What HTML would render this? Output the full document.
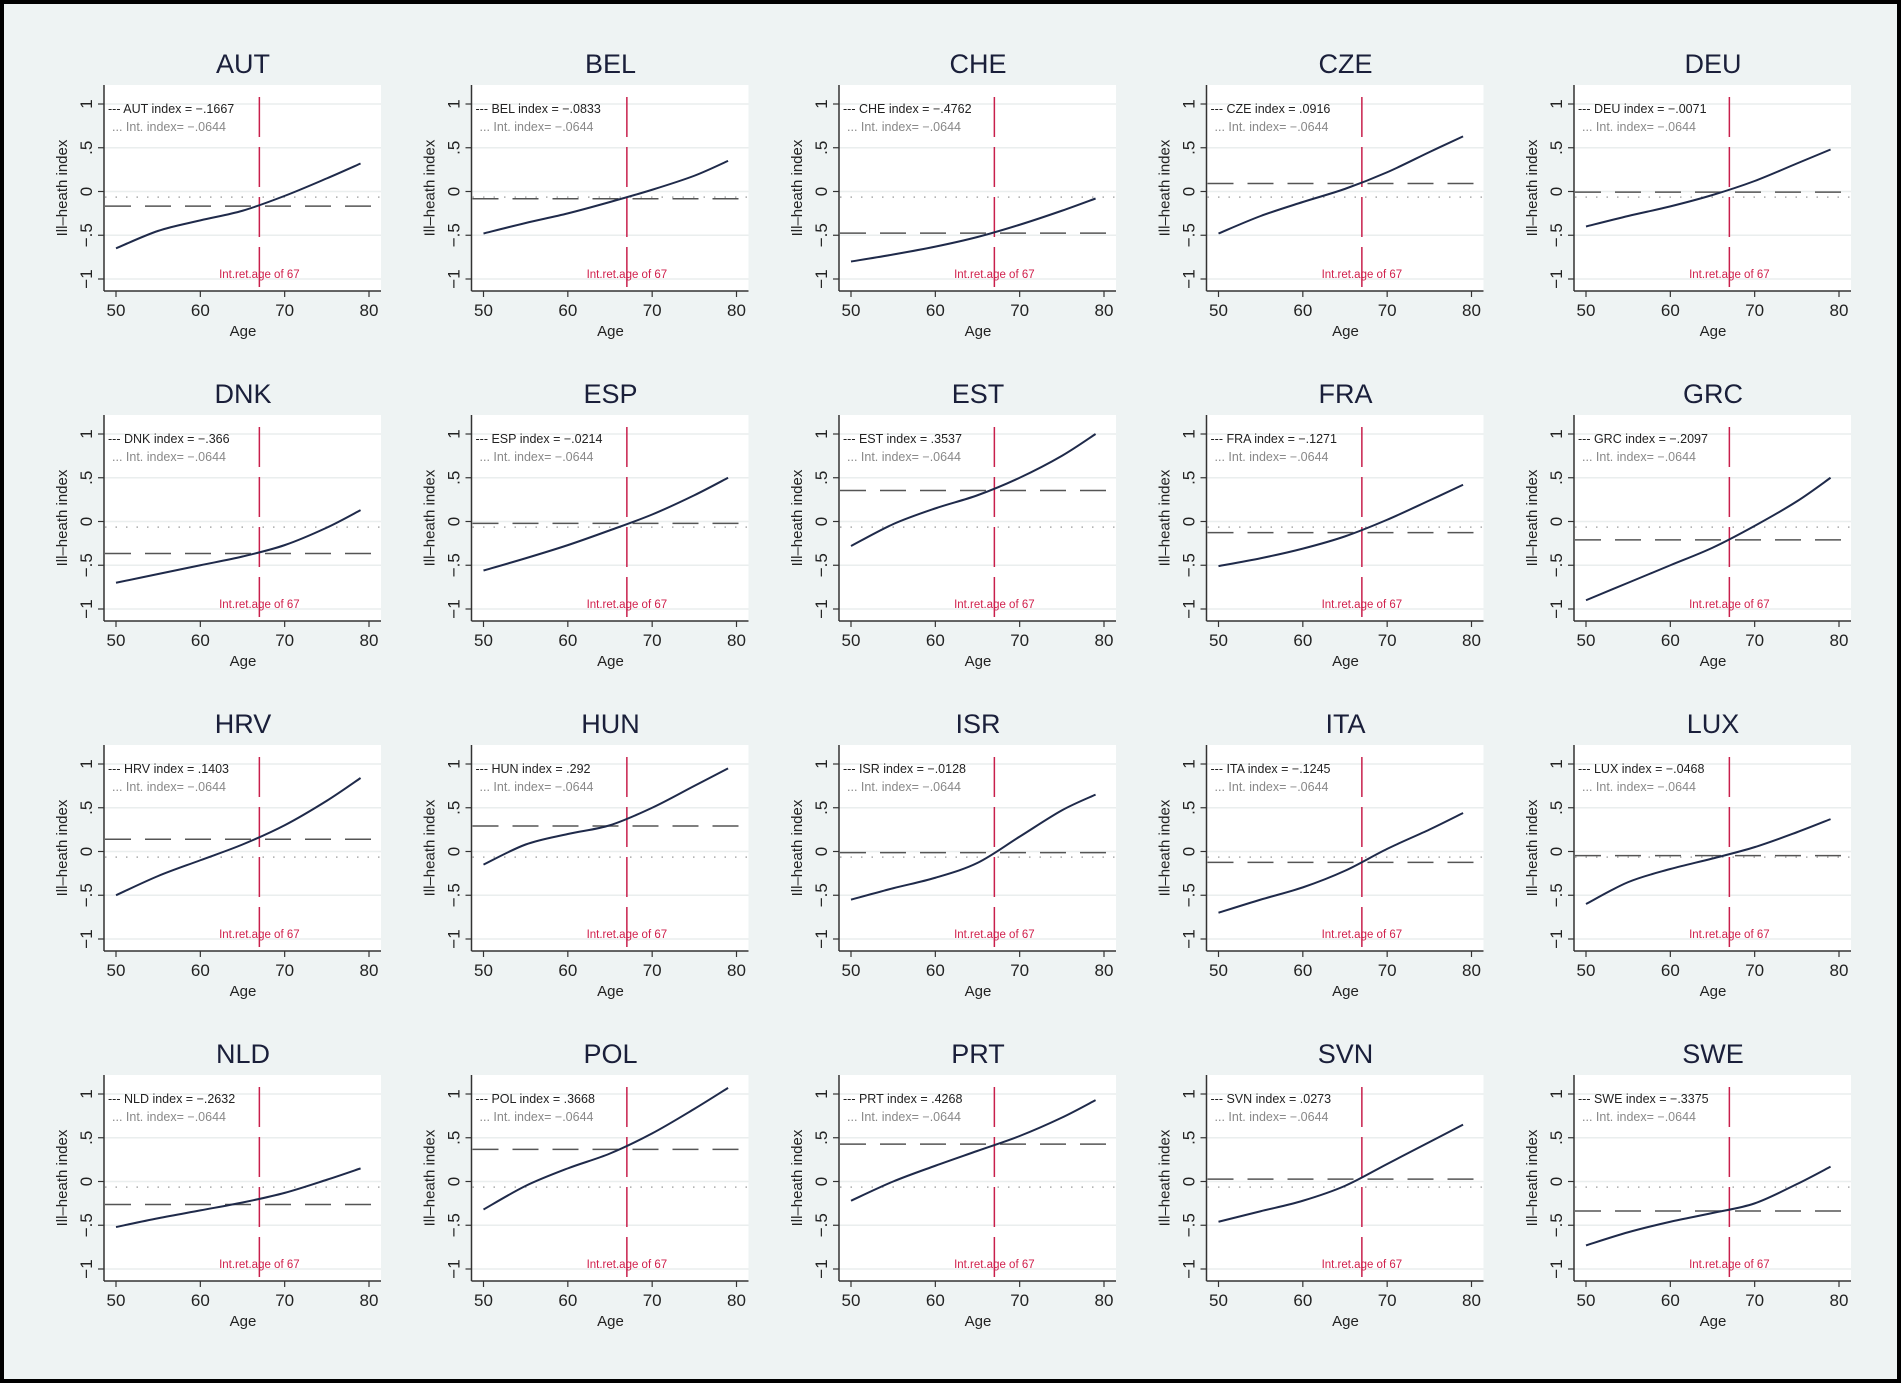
<!DOCTYPE html>
<html><head><meta charset="utf-8">
<style>
html,body{margin:0;padding:0;background:#fff;}
svg{display:block;font-family:"Liberation Sans",Arial,sans-serif;}
</style></head>
<body>
<svg id="fig" width="1902" height="1385" viewBox="0 0 1902 1385" xmlns="http://www.w3.org/2000/svg">
<rect x="2" y="2" width="1897" height="1379" fill="#eef3f3" stroke="#000" stroke-width="4"/>
<g id="panels"></g>
</svg>
<script>
const countries = ["AUT","BEL","CHE","CZE","DEU","DNK","ESP","EST","FRA","GRC","HRV","HUN","ISR","ITA","LUX","NLD","POL","PRT","SVN","SWE"];
const indexValues = [-0.1667,-0.0833,-0.4762,0.0916,-0.0071,-0.366,-0.0214,0.3537,-0.1271,-0.2097,0.1403,0.292,-0.0128,-0.1245,-0.0468,-0.2632,0.3668,0.4268,0.0273,-0.3375];
const indexLabels = ["-.1667","-.0833","-.4762",".0916","-.0071","-.366","-.0214",".3537","-.1271","-.2097",".1403",".292","-.0128","-.1245","-.0468","-.2632",".3668",".4268",".0273","-.3375"];
const intIndex = -0.0644;
const retAge = 67;
const ages = [50,55,60,65,70,75,79];
const AUT=[-0.65,-0.45,-0.33,-0.22,-0.05,0.15,0.32];
const BEL=[-0.48,-0.36,-0.25,-0.12,0.02,0.18,0.35];
const CHE=[-0.8,-0.72,-0.63,-0.52,-0.38,-0.22,-0.08];
const CZE=[-0.48,-0.28,-0.12,0.03,0.22,0.45,0.63];
const DEU=[-0.4,-0.28,-0.17,-0.04,0.12,0.32,0.48];
const DNK=[-0.7,-0.6,-0.5,-0.4,-0.27,-0.07,0.13];
const ESP=[-0.56,-0.42,-0.27,-0.1,0.08,0.3,0.5];
const EST=[-0.28,-0.03,0.15,0.3,0.5,0.75,1.0];
const FRA=[-0.51,-0.42,-0.31,-0.17,0.02,0.24,0.42];
const GRC=[-0.9,-0.7,-0.5,-0.3,-0.05,0.23,0.5];
const HRV=[-0.5,-0.28,-0.1,0.08,0.3,0.58,0.84];
const HUN=[-0.15,0.08,0.2,0.3,0.5,0.75,0.95];
const ISR=[-0.55,-0.42,-0.3,-0.13,0.17,0.47,0.65];
const ITA=[-0.7,-0.55,-0.41,-0.22,0.03,0.25,0.44];
const LUX=[-0.6,-0.35,-0.2,-0.08,0.05,0.22,0.37];
const NLD=[-0.52,-0.42,-0.33,-0.24,-0.13,0.02,0.15];
const POL=[-0.32,-0.05,0.15,0.32,0.55,0.83,1.07];
const PRT=[-0.22,0.0,0.18,0.35,0.52,0.73,0.93];
const SVN=[-0.46,-0.34,-0.22,-0.05,0.2,0.45,0.65];
const SWE=[-0.73,-0.58,-0.46,-0.36,-0.25,-0.03,0.17];
const series=[AUT,BEL,CHE,CZE,DEU,DNK,ESP,EST,FRA,GRC,HRV,HUN,ISR,ITA,LUX,NLD,POL,PRT,SVN,SWE];
const yTicks=[-1,-0.5,0,0.5,1];
const yTickLabels=["\u22121","\u2212.5","0",".5","1"];
const xTicks=[50,60,70,80];

const NS="http://www.w3.org/2000/svg";
const root=document.getElementById('panels');
function mk(tag,attrs,parent,text){const e=document.createElementNS(NS,tag);for(const k in attrs)e.setAttribute(k,attrs[k]);if(text!==undefined)e.textContent=text;parent.appendChild(e);return e;}

countries.forEach((c,i)=>{
  const col=i%5,row=Math.floor(i/5);
  const ax=104+col*367.5, top=85+row*330, right=ax+277, bottom=top+206;
  const xs=v=>ax+12+(v-50)*(253/30);
  const ys=v=>top+106.5-v*87.5;
  const g=mk('g',{},root);
  
  
  mk('rect',{x:ax,y:top,width:right-ax,height:bottom-top,fill:'#fff'},g);
  const t=mk('text',{x:ax+139,y:top-12,'text-anchor':'middle','font-size':27,fill:'#1a1f3a'},g,c);
  
  
  yTicks.forEach((v,k)=>{
    mk('line',{x1:ax,x2:right,y1:ys(v),y2:ys(v),stroke:'#eaeeee','stroke-width':1.5},g);
    mk('line',{x1:ax-6,x2:ax,y1:ys(v),y2:ys(v),stroke:'#333','stroke-width':1.2},g);
    const tl=mk('text',{x:0,y:0,'text-anchor':'middle','font-size':17,fill:'#222',transform:`translate(${ax-12},${ys(v)}) rotate(-90)`},g,yTickLabels[k]);
    
    
  });
  xTicks.forEach(v=>{
    mk('line',{x1:xs(v),x2:xs(v),y1:bottom,y2:bottom+6,stroke:'#333','stroke-width':1.2},g);
    const tl=mk('text',{x:xs(v),y:bottom+25,'text-anchor':'middle','font-size':17,fill:'#222'},g,String(v));
    
    
  });
  mk('line',{x1:ax,x2:ax,y1:top,y2:bottom,stroke:'#333','stroke-width':1.5},g);
  mk('line',{x1:ax,x2:right,y1:bottom,y2:bottom,stroke:'#333','stroke-width':1.5},g);
  const xl=mk('text',{x:ax+139,y:bottom+45,'text-anchor':'middle','font-size':15,fill:'#222'},g,'Age');
  
  
  const yl=mk('text',{x:0,y:0,'text-anchor':'middle','font-size':15,fill:'#222',transform:`translate(${ax-37},${top+103}) rotate(-90)`},g,'Ill\u2013heath index');
  
  
  const dl=mk('line',{x1:ax+1,x2:right,y1:ys(intIndex),y2:ys(intIndex),stroke:'#aaa','stroke-width':1.5,'stroke-dasharray':'1.5 9'},g);
  
  
  const il=mk('line',{x1:ax+1,x2:right,y1:ys(indexValues[i]),y2:ys(indexValues[i]),stroke:'#555','stroke-width':1.5,'stroke-dasharray':'26 14'},g);
  
  
  const rl=mk('line',{x1:xs(retAge),x2:xs(retAge),y1:top+12,y2:bottom,stroke:'#c81f4b','stroke-width':1.5,'stroke-dasharray':'40 10'},g);
  
  
  const rt=mk('text',{x:xs(retAge),y:top+193,'text-anchor':'middle','font-size':11.5,fill:'#d01f4b'},g,'Int.ret.age of 67');
  
  
  const l1=mk('text',{x:ax+4,y:top+28,'font-size':12.5,fill:'#222'},g,'--- '+c+' index = '+indexLabels[i].replace('-','\u2212'));
  
  
  const l2=mk('text',{x:ax+8,y:top+46,'font-size':12.5,fill:'#888'},g,'... Int. index= \u2212.0644');
  
  
  const pts=ages.map((a,k)=>[xs(a),ys(series[i][k])]);
  let d='M'+pts[0][0]+','+pts[0][1];
  for(let k=0;k<pts.length-1;k++){
    const p0=pts[Math.max(k-1,0)],p1=pts[k],p2=pts[k+1],p3=pts[Math.min(k+2,pts.length-1)];
    const c1=[p1[0]+(p2[0]-p0[0])/6,p1[1]+(p2[1]-p0[1])/6];
    const c2=[p2[0]-(p3[0]-p1[0])/6,p2[1]-(p3[1]-p1[1])/6];
    d+=`C${c1[0]},${c1[1]} ${c2[0]},${c2[1]} ${p2[0]},${p2[1]}`;
  }
  const ln=mk('path',{d:d,fill:'none',stroke:'#1f2a4a','stroke-width':2},g);
  
  
});
</script>
</body></html>
